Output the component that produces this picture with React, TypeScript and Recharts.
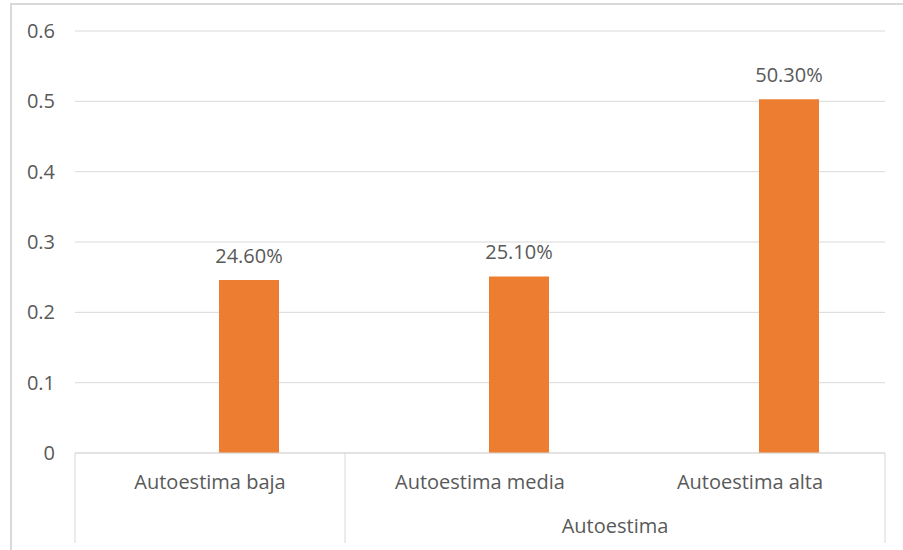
import { BarChart, Bar, XAxis, YAxis, CartesianGrid, LabelList } from "recharts";

const categories = ["Autoestima baja", "Autoestima media", "Autoestima alta"];
const values = [0.246, 0.251, 0.503];
const yTicks = [0, 0.1, 0.2, 0.3, 0.4, 0.5, 0.6];
const groupLabel = "Autoestima";

const data = categories.map((name, i) => ({ name, vacio: null, valor: values[i] }));

const FONT = "'Open Sans', Lato, sans-serif";
const FS = 20;
const TEXT = "#595959";
const LINE = "#d9d9d9";

function YTick(props: any) {
  const { y, payload } = props;
  return (
    <text x={55} y={y} dy={7} textAnchor="end" fontSize={FS} fill={TEXT} fontFamily={FONT}>
      {String(payload.value)}
    </text>
  );
}

function CategoryTick(props: any) {
  const { x, y, payload, index } = props;
  const half = payload.offset || 135;
  return (
    <g>
      <text x={x} y={y + 36} textAnchor="middle" fontSize={FS} fill={TEXT} fontFamily={FONT}>
        {payload.value}
      </text>
      {index === 0 && (
        <>
          <line x1={x - half} x2={x - half} y1={y} y2={y + 90} stroke={LINE} />
          <line x1={x + half} x2={x + half} y1={y} y2={y + 90} stroke={LINE} />
        </>
      )}
      {index === 1 && (
        <text x={x + half} y={y + 80} textAnchor="middle" fontSize={FS} fill={TEXT} fontFamily={FONT}>
          {groupLabel}
        </text>
      )}
      {index === categories.length - 1 && (
        <line x1={x + half} x2={x + half} y1={y} y2={y + 90} stroke={LINE} />
      )}
    </g>
  );
}

export default function App() {
  return (
    <div style={{ position: "absolute", left: 0, top: 0, width: 903, height: 550, overflow: "hidden", background: "#fff" }}>
      <div
        style={{
          position: "absolute",
          left: 10,
          top: 3,
          width: 920,
          height: 580,
          borderLeft: "2px solid #d9d9d9",
          borderTop: "2px solid #d9d9d9",
          boxSizing: "border-box",
        }}
      />
      <BarChart
        width={903}
        height={550}
        data={data}
        margin={{ top: 31, right: 18, left: 0, bottom: 0 }}
        barSize={60}
        barGap={18}
        barCategoryGap={66}
        style={{ position: "absolute", left: 0, top: 0 }}
      >
        <CartesianGrid vertical={false} stroke={LINE} />
        <XAxis
          dataKey="name"
          height={97}
          tickSize={0}
          tickMargin={0}
          tickLine={false}
          axisLine={{ stroke: LINE }}
          tick={<CategoryTick />}
          interval={0}
        />
        <YAxis
          width={75}
          domain={[0, 0.6]}
          ticks={yTicks}
          axisLine={false}
          tickLine={false}
          tick={<YTick />}
        />
        <Bar dataKey="vacio" fill="#4472c4" isAnimationActive={false} />
        <Bar dataKey="valor" fill="#ed7d31" isAnimationActive={false}>
          <LabelList
            dataKey="valor"
            position="top"
            offset={17}
            fontSize={FS}
            fill={TEXT}
            fontFamily={FONT}
            formatter={(v: any) => `${(Number(v) * 100).toFixed(2)}%`}
          />
        </Bar>
      </BarChart>
    </div>
  );
}
